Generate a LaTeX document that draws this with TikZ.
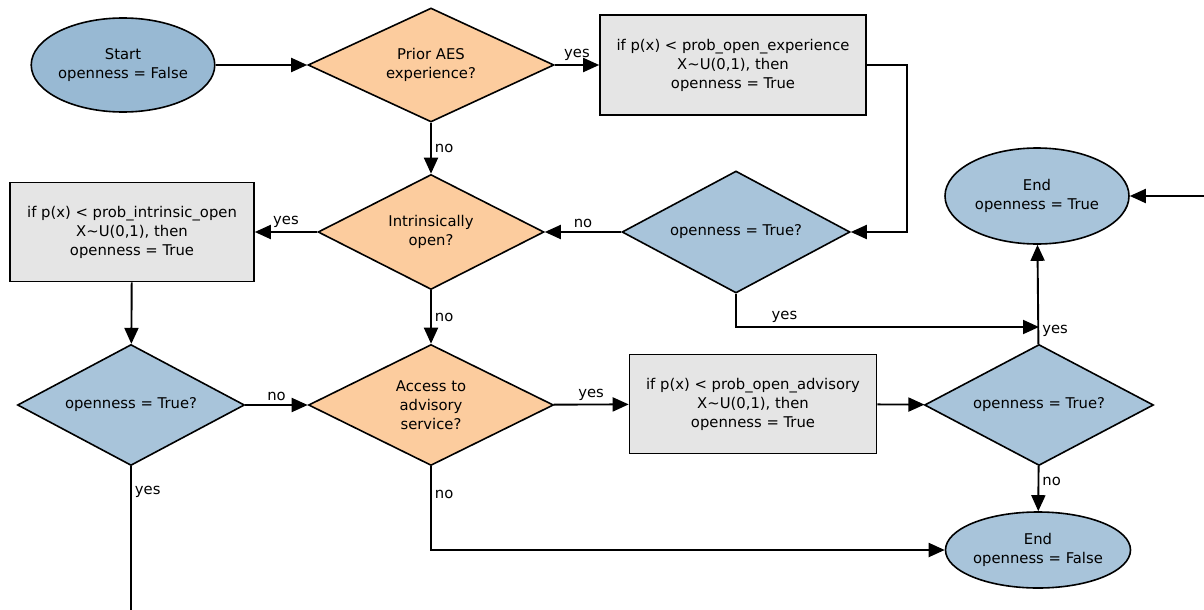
\documentclass[tikz,border=0pt]{standalone}
\usepackage{fontspec}
\setmainfont{DejaVu Sans}
\usepackage{tikz}
\usetikzlibrary{positioning, calc}
\usetikzlibrary{shapes.geometric}
\usetikzlibrary{arrows.meta}

\definecolor{startblue}{RGB}{152,185,211}
\definecolor{checkblue}{RGB}{168,196,218}
\definecolor{askorange}{RGB}{252,204,158}
\definecolor{rulegray}{RGB}{229,229,229}

\tikzset{
    terminal/.style={ellipse, draw, line width=1.6pt, fill=checkblue, align=center, inner sep=0pt},
    decision/.style={diamond, draw, line width=1.6pt, align=center, inner sep=0pt, aspect=2},
    rulebox/.style={rectangle, draw, line width=1.6pt, fill=rulegray, align=center, inner sep=0pt},
    flow/.style={line width=1.9pt, -{Triangle[length=16pt,width=14pt]}},
    lbl/.style={inner sep=3pt}
}

\begin{document}
\begin{tikzpicture}[x=1pt,y=-1pt,font=\fontsize{14.8}{19}\selectfont]
                    \useasboundingbox (0,0) rectangle (1204,610);
                    \clip (0,0) rectangle (1204,610);

                    \node[terminal, fill=startblue, minimum width=182pt, minimum height=94pt] (start) at (123,65) {Start\\openness = False};
                    \node[decision, fill=askorange, minimum width=246pt, minimum height=114pt] (prior) at (431,65) {Prior AES\\experience?};
                    \node[rulebox, minimum width=266pt, minimum height=100pt] (expbox) at (733,65) {if p(x) < prob\_open\_experience\\X\textasciitilde U(0,1), then\\openness = True};
                    \node[decision, fill=checkblue, minimum width=228pt, minimum height=122pt] (open1) at (736,232) {openness = True?};
                    \node[decision, fill=askorange, minimum width=226pt, minimum height=115pt] (intrinsic) at (431,232) {Intrinsically\\open?};
                    \node[rulebox, minimum width=244pt, minimum height=99pt] (intrbox) at (132,232) {if p(x) < prob\_intrinsic\_open\\X\textasciitilde U(0,1), then\\openness = True};
                    \node[decision, fill=checkblue, minimum width=227pt, minimum height=121pt] (open2) at (131,405) {openness = True?};
                    \node[decision, fill=askorange, minimum width=245pt, minimum height=121pt] (access) at (431,405) {Access to\\advisory\\service?};
                    \node[rulebox, minimum width=247pt, minimum height=99pt] (advbox) at (753,404) {if p(x) < prob\_open\_advisory\\X\textasciitilde U(0,1), then\\openness = True};
                    \node[decision, fill=checkblue, minimum width=229pt, minimum height=121pt] (open3) at (1039,405) {openness = True?};
                    \node[terminal, minimum width=185pt, minimum height=76pt] (endfalse) at (1038,550) {End\\openness = False};
                    \node[terminal, minimum width=184pt, minimum height=96pt] (endtrue) at (1037,196) {End\\openness = True};
                    \coordinate (join) at (1039,327);

                    % connectors
                    \draw[flow] (start) -- (prior);
                    \draw[flow] (prior) -- node[lbl,above] {yes} (expbox);
                    \draw[flow] (expbox.east) -- ++(40,0) |- (open1.east);
                    \draw[flow] (open1) -- node[lbl,above] {no} (intrinsic);
                    \draw[flow] (prior) -- node[lbl,right] {no} (intrinsic);
                    \draw[flow] (intrinsic) -- node[lbl,above] {yes} (intrbox);
                    \draw[flow] (intrbox) -- (open2);
                    \draw[flow] (open2) -- node[lbl,above] {no} (access);
                    \draw[flow] (intrinsic) -- node[lbl,right] {no} (access);
                    \draw[flow] (access) -- node[lbl,above] {yes} (advbox);
                    \draw[flow] (advbox) -- (open3);
                    \draw[flow] (open3) -- node[lbl,right,pos=0.35] {no} (endfalse);
                    \draw[flow] (access.south) |- node[lbl,right,pos=0.17] {no} (endfalse.west);
                    \draw[flow] (open1.south) |- node[lbl,above,pos=0.58] {yes} (join);
                    \draw[flow] (open3) -- node[lbl,right,pos=0.13] {yes} (endtrue);
                    \draw[flow] (open2.south) -- node[lbl,right,pos=0.13] {yes} ++(0,200) -| ($(endtrue.east)+(120,0)$) -- (endtrue.east);
                \end{tikzpicture}
\end{document}
